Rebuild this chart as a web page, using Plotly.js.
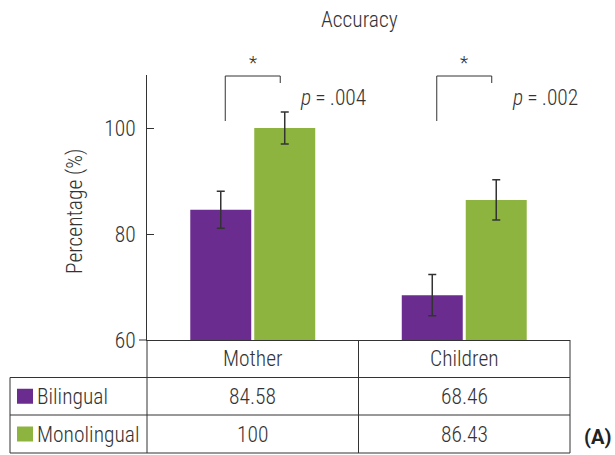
<!DOCTYPE html>
<html>
<head>
<meta charset="utf-8">
<script src="https://cdn.plot.ly/plotly-3.0.1.min.js"></script>
<style>
html,body{margin:0;padding:0;background:#fff;}
#chart{width:615px;height:455px;}
</style>
</head>
<body>
<div id="chart"></div>
<script>
// ---- data ----
const categories = ['Mother', 'Children'];
const seriesNames = ['Bilingual', 'Monolingual'];
const bilingual = [84.58, 68.46];
const monolingual = [100, 86.43];
const bilingualErr = [3.5, 3.9];
const monolingualErr = [3.0, 3.8];
const pValues = ['.004', '.002'];
const yTicks = [60, 80, 100];

// ---- style ----
const purple = '#6b2c8f';
const green = '#8db43e';
const ink = '#333333';
const FONT = '"Roboto Condensed", "Liberation Sans", sans-serif';
const W = 300;
const FS = 21.5;

// layout geometry (pixels)
const L = 147, R = 570, T = 75, B = 340;
const fx = px => (px - L) / (R - L);
const fy = py => (B - py) / (B - T);
const catX = (i, off) => (i + 0.5 + off) / categories.length;

const traces = [
  {type: 'bar', name: seriesNames[0], x: categories, y: bilingual,
   marker: {color: purple},
   error_y: {type: 'data', array: bilingualErr, visible: true, color: ink, thickness: 1.5, width: 4}},
  {type: 'bar', name: seriesNames[1], x: categories, y: monolingual,
   marker: {color: green},
   error_y: {type: 'data', array: monolingualErr, visible: true, color: ink, thickness: 1.5, width: 4}}
];

const shapes = [];
const annotations = [];
const line = (x0, y0, x1, y1, w) => shapes.push({type: 'line', xref: 'paper', yref: 'paper',
  x0: x0, y0: y0, x1: x1, y1: y1, line: {color: ink, width: w || 1}});

// x-axis line extension to the left of the y axis
line(fx(139), 0, 0, 0);
// table grid
const rowY = [340, 377.5, 415, 453];
line(fx(10), fy(rowY[1]), 1, fy(rowY[1]));
line(fx(10), fy(rowY[2]), 1, fy(rowY[2]));
line(fx(10), fy(rowY[3]), 1, fy(rowY[3]));
line(fx(10), fy(rowY[1]), fx(10), fy(rowY[3]));
line(0, 0, 0, fy(rowY[3]));
line(0.5, 0, 0.5, fy(rowY[3]));
line(1, 0, 1, fy(rowY[3]));

const txt = (text, x, y, opts) => annotations.push(Object.assign({
  text: text, x: x, y: y, xref: 'paper', yref: 'paper', showarrow: false,
  font: {family: FONT, size: FS, color: ink, weight: W}, xanchor: 'center', yanchor: 'middle'}, opts || {}));

// header + values
categories.forEach((c, i) => {
  txt(c, catX(i, 0), fy((rowY[0] + rowY[1]) / 2));
  txt(String(bilingual[i]), catX(i, 0), fy((rowY[1] + rowY[2]) / 2));
  txt(String(monolingual[i]), catX(i, 0), fy((rowY[2] + rowY[3]) / 2));
});
// legend cells
[purple, green].forEach((col, k) => {
  const cy = (rowY[k + 1] + rowY[k + 2]) / 2;
  shapes.push({type: 'rect', xref: 'paper', yref: 'paper',
    x0: fx(17), x1: fx(33), y0: fy(cy - 7.5), y1: fy(cy + 7.5),
    fillcolor: col, line: {width: 0}});
  txt(seriesNames[k], fx(35), fy(cy), {xanchor: 'left'});
});

// significance brackets
categories.forEach((c, i) => {
  const xl = catX(i, -0.13), xr = catX(i, 0.13);
  line(xl, fy(121), xl, fy(76));
  line(xl, fy(76), xr, fy(76));
  line(xr, fy(76), xr, fy(83));
  txt('*', catX(i, 0), fy(62), {font: {family: FONT, size: 19, color: ink, weight: W}});
  txt('<i>p</i>\u2009=\u2009' + pValues[i], catX(i, 0.215), fy(97), {xanchor: 'left'});
});

// titles
txt('Accuracy', fx(359.5), fy(19), {font: {family: FONT, size: FS, color: ink, weight: W}});
txt('Percentage (%)', fx(75), fy(211), {textangle: -90});
txt('(A)', fx(597.5), fy(437), {font: {family: '"Roboto", "Liberation Sans", sans-serif', size: 20, color: '#222', weight: 700}});

const layout = {
  width: 615, height: 455,
  margin: {l: L, r: 615 - R, t: T, b: 455 - B, pad: 0},
  paper_bgcolor: '#fff', plot_bgcolor: '#fff',
  showlegend: false,
  barmode: 'group', bargap: 0.395, bargroupgap: 0.047,
  font: {family: FONT, size: FS, color: ink, weight: W},
  xaxis: {type: 'category', showline: true, linecolor: ink, linewidth: 1,
    showticklabels: false, ticks: '', showgrid: false, zeroline: false, fixedrange: true},
  yaxis: {range: [60, 110], tickvals: yTicks, ticktext: yTicks.map(String),
    ticks: 'inside', ticklen: 7, tickcolor: ink, tickwidth: 1,
    showline: true, linecolor: ink, linewidth: 1, showgrid: false, zeroline: false,
    tickfont: {family: FONT, size: FS, color: ink, weight: W}, ticklabelstandoff: 6},
  shapes: shapes,
  annotations: annotations
};

Plotly.newPlot('chart', traces, layout, {staticPlot: true, displayModeBar: false});
</script>
</body>
</html>
